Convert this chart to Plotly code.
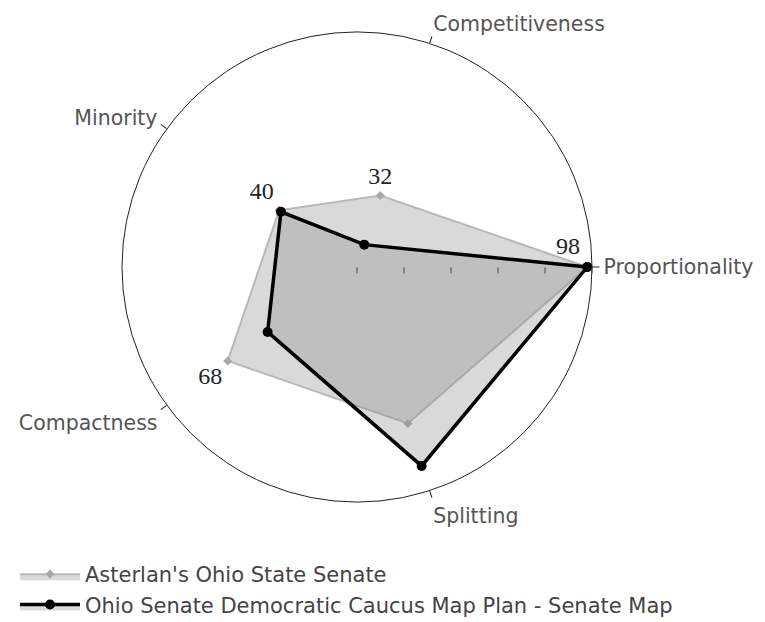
import plotly.graph_objects as go

categories = ["Proportionality", "Competitiveness", "Minority", "Compactness", "Splitting"]
series_names = ["Asterlan's Ohio State Senate",
                "Ohio Senate Democratic Caucus Map Plan - Senate Map"]
asterlan_values = [98, 32, 41, 68, 70]
caucus_values = [98, 10, 40, 47, 89]
radial_ticks = [0, 20, 40, 60, 80, 100]

# which values carry a printed label in the reference
asterlan_labels = [False, True, False, True, False]
caucus_labels = [True, False, True, False, False]

# page body has an 8px margin, so the figure is drawn 8px in from the window edge;
# the figure is made a little taller than the window so the legend is not pushed up
W, H = 765, 640
OFF = 8
cx, cy, R = 357 - OFF, 267 - OFF, 235


def closed(lst):
    return list(lst) + [lst[0]]


def label_text(values, flags):
    return [str(v) if f else "" for v, f in zip(values, flags)] + [""]


fig = go.Figure()

fig.add_trace(go.Scatterpolar(
    r=closed(asterlan_values), theta=closed(categories),
    name=series_names[0],
    mode="lines+markers+text",
    text=label_text(asterlan_values, asterlan_labels),
    textposition=["top center", "top center", "top center", "bottom left", "top center", "top center"],
    textfont=dict(family="Liberation Serif", size=24, color="#222"),
    line=dict(color="#b8b8b8", width=2),
    marker=dict(color="#a8a8a8", size=7, symbol="diamond"),
    fill="toself", fillcolor="rgba(140,140,140,0.33)",
    cliponaxis=False,
))

fig.add_trace(go.Scatterpolar(
    r=closed(caucus_values), theta=closed(categories),
    name=series_names[1],
    mode="lines+markers+text",
    text=label_text(caucus_values, caucus_labels),
    textposition=["top left", "top center", "top left", "top center", "top center", "top center"],
    textfont=dict(family="Liberation Serif", size=24, color="#222"),
    line=dict(color="#000000", width=3.5),
    marker=dict(color="#000000", size=10, symbol="circle"),
    fill="toself", fillcolor="rgba(140,140,140,0.33)",
    cliponaxis=False,
))

fig.update_layout(
    width=W, height=H,
    margin=dict(l=0, r=0, t=0, b=0, autoexpand=False),
    paper_bgcolor="white",
    font=dict(family="DejaVu Sans", size=20, color="#444"),
    polar=dict(
        domain=dict(x=[(cx - R) / W, (cx + R) / W], y=[1 - (cy + R) / H, 1 - (cy - R) / H]),
        bgcolor="white",
        radialaxis=dict(range=[0, 100], tickvals=radial_ticks, showticklabels=False,
                        ticks="outside", ticklen=6, tickcolor="#444", showline=False,
                        showgrid=False, angle=0),
        angularaxis=dict(direction="counterclockwise", rotation=0,
                         showline=True, linecolor="#222", linewidth=1,
                         showgrid=False, ticks="outside", ticklen=7, tickcolor="#222",
                         tickfont=dict(family="DejaVu Sans", size=20.5, color="#555")),
    ),
    showlegend=True,
    legend=dict(x=7 / W, y=1 - 546 / H, xanchor="left", yanchor="top",
                itemwidth=60,
                font=dict(family="DejaVu Sans", size=21, color="#444"),
                bgcolor="rgba(0,0,0,0)"),
)

fig.write_html("out.html")
